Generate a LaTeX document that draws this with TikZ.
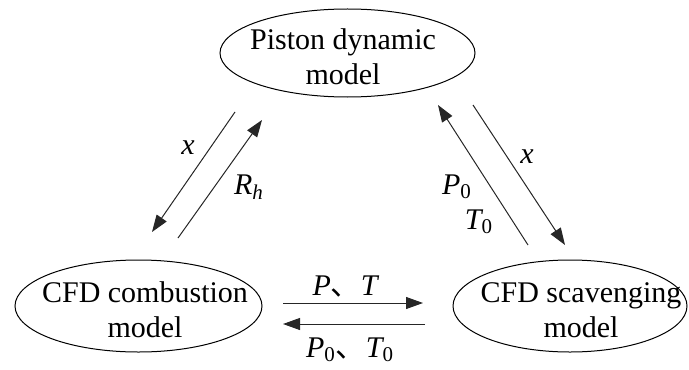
\documentclass[tikz,border=0pt]{standalone}
\usepackage{fontspec}
\setmainfont{Liberation Serif}
\newfontfamily\cjkfont{Noto Sans CJK SC}
\usetikzlibrary{arrows.meta}

\tikzset{
  modeltext/.style={align=center, font=\fontsize{15}{17.5}\selectfont, inner sep=0pt},
  modeloval/.style={line width=0.5pt},
  flowarrow/.style={-{Triangle[length=8.5pt,width=6pt]}, line width=0.5pt, black!85},
  flowlabel/.style={font=\fontsize{15}{17.5}\selectfont\itshape, inner sep=0pt}
}

\begin{document}
\begin{tikzpicture}[x=0.5pt,y=-0.5pt]
\useasboundingbox (0,0) rectangle (689,369);

% Models
\node[modeltext] (piston) at (343,57) {Piston dynamic\\model};
\draw[modeloval] (347.5,53) ellipse [x radius=63.75pt, y radius=22pt];

\node[modeltext] (comb) at (145,310) {CFD combustion\\model};
\draw[modeloval] (138.5,306) ellipse [x radius=61.75pt, y radius=23pt];

\node[modeltext] (scav) at (581,310) {CFD scavenging\\model};
\draw[modeloval] (570,306) ellipse [x radius=58.5pt, y radius=23pt];

% End points of the exchange arrows
\coordinate (pc1) at (235,112);  \coordinate (cp1) at (152,232);
\coordinate (cp2) at (178,238);  \coordinate (pc2) at (262,120);
\coordinate (sp1) at (528,245);  \coordinate (ps1) at (438,105);
\coordinate (ps2) at (473,105);  \coordinate (sp2) at (565,245);
\coordinate (cs1) at (283,303);  \coordinate (sc1) at (423,303);
\coordinate (sc2) at (425,324);  \coordinate (cs2) at (283,324);

% Piston <-> combustion
\draw[flowarrow] (pc1) -- (cp1);
\draw[flowarrow] (cp2) -- (pc2);
\node[flowlabel] (xc) at (188,148) {x};
\node[flowlabel] (rh) at (249,187) {R\textsubscript{h}};

% Piston <-> scavenging
\draw[flowarrow] (sp1) -- (ps1);
\draw[flowarrow] (ps2) -- (sp2);
\node[flowlabel] (xs) at (527,157) {x};
\node[flowlabel] (p0s) at (457,187) {P\textsubscript{\upshape 0}};
\node[flowlabel] (t0s) at (479,222) {T\textsubscript{\upshape 0}};

% Combustion <-> scavenging
\draw[flowarrow] (cs1) -- (sc1);
\draw[flowarrow] (sc2) -- (cs2);
\node[flowlabel] (pt) at (345,287) {P{\cjkfont\upshape 、}T};
\node[flowlabel] (p0t0) at (350,350) {P\textsubscript{\upshape 0}{\cjkfont\upshape 、}T\textsubscript{\upshape 0}};

\end{tikzpicture}
\end{document}
